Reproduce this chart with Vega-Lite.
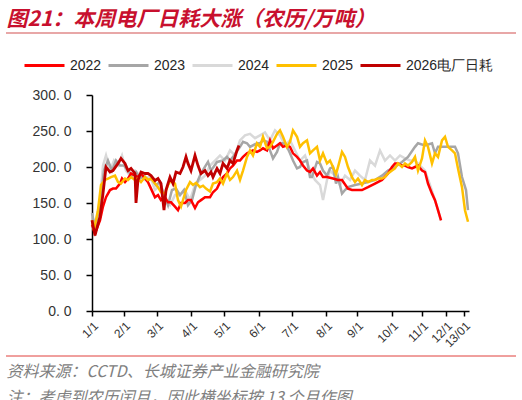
{
  "$schema": "https://vega.github.io/schema/vega-lite/v6.json",
  "width": 377,
  "height": 216,
  "autosize": {"type": "none"},
  "padding": {"left": 92, "top": 95, "right": 53, "bottom": 89},
  "background": "white",
  "config": {"view": {"stroke": null}, "font": "Liberation Sans", "axis": {"labelOverlap": false}},
  "data": {"values": [
    {"s":"2024","t":0,"v":133},{"s":"2024","t":3,"v":119},{"s":"2024","t":8,"v":154},{"s":"2024","t":11,"v":202},{"s":"2024","t":14,"v":216},{"s":"2024","t":18,"v":195},{"s":"2024","t":22,"v":209},{"s":"2024","t":26,"v":202},{"s":"2024","t":30,"v":216},{"s":"2024","t":34,"v":195},{"s":"2024","t":38,"v":188},{"s":"2024","t":43,"v":195},{"s":"2024","t":48,"v":188},{"s":"2024","t":53,"v":182},{"s":"2024","t":58,"v":188},{"s":"2024","t":63,"v":168},{"s":"2024","t":68,"v":175},{"s":"2024","t":73,"v":154},{"s":"2024","t":78,"v":147},{"s":"2024","t":83,"v":161},{"s":"2024","t":88,"v":161},{"s":"2024","t":93,"v":168},{"s":"2024","t":98,"v":154},{"s":"2024","t":103,"v":175},{"s":"2024","t":108,"v":182},{"s":"2024","t":113,"v":188},{"s":"2024","t":118,"v":202},{"s":"2024","t":123,"v":209},{"s":"2024","t":128,"v":216},{"s":"2024","t":133,"v":209},{"s":"2024","t":138,"v":223},{"s":"2024","t":143,"v":216},{"s":"2024","t":148,"v":237},{"s":"2024","t":153,"v":244},{"s":"2024","t":158,"v":246},{"s":"2024","t":163,"v":240},{"s":"2024","t":168,"v":244},{"s":"2024","t":173,"v":248},{"s":"2024","t":178,"v":237},{"s":"2024","t":183,"v":251},{"s":"2024","t":188,"v":244},{"s":"2024","t":193,"v":230},{"s":"2024","t":198,"v":237},{"s":"2024","t":203,"v":223},{"s":"2024","t":208,"v":209},{"s":"2024","t":213,"v":216},{"s":"2024","t":218,"v":195},{"s":"2024","t":223,"v":182},{"s":"2024","t":228,"v":175},{"s":"2024","t":231,"v":154},{"s":"2024","t":235,"v":182},{"s":"2024","t":238,"v":195},{"s":"2024","t":243,"v":188},{"s":"2024","t":248,"v":175},{"s":"2024","t":253,"v":188},{"s":"2024","t":258,"v":182},{"s":"2024","t":263,"v":195},{"s":"2024","t":268,"v":188},{"s":"2024","t":273,"v":182},{"s":"2024","t":278,"v":209},{"s":"2024","t":283,"v":202},{"s":"2024","t":288,"v":223},{"s":"2024","t":293,"v":209},{"s":"2024","t":298,"v":216},{"s":"2024","t":303,"v":209},{"s":"2024","t":308,"v":216},{"s":"2024","t":313,"v":212},{"s":"2024","t":318,"v":209},{"s":"2024","t":323,"v":209},{"s":"2024","t":328,"v":202},{"s":"2024","t":333,"v":195},{"s":"2024","t":338,"v":175},{"s":"2024","t":343,"v":154},{"s":"2024","t":346,"v":140},{"s":"2024","t":349,"v":126},

    {"s":"2023","t":0,"v":136},{"s":"2023","t":3,"v":115},{"s":"2023","t":8,"v":147},{"s":"2023","t":12,"v":195},{"s":"2023","t":16,"v":209},{"s":"2023","t":20,"v":195},{"s":"2023","t":24,"v":209},{"s":"2023","t":28,"v":202},{"s":"2023","t":32,"v":202},{"s":"2023","t":36,"v":195},{"s":"2023","t":40,"v":188},{"s":"2023","t":44,"v":193},{"s":"2023","t":48,"v":184},{"s":"2023","t":52,"v":188},{"s":"2023","t":56,"v":182},{"s":"2023","t":60,"v":184},{"s":"2023","t":64,"v":175},{"s":"2023","t":68,"v":179},{"s":"2023","t":72,"v":161},{"s":"2023","t":76,"v":147},{"s":"2023","t":80,"v":168},{"s":"2023","t":84,"v":170},{"s":"2023","t":88,"v":161},{"s":"2023","t":92,"v":168},{"s":"2023","t":96,"v":147},{"s":"2023","t":100,"v":154},{"s":"2023","t":104,"v":175},{"s":"2023","t":108,"v":188},{"s":"2023","t":112,"v":198},{"s":"2023","t":116,"v":207},{"s":"2023","t":119,"v":195},{"s":"2023","t":125,"v":207},{"s":"2023","t":131,"v":209},{"s":"2023","t":135,"v":214},{"s":"2023","t":138,"v":209},{"s":"2023","t":141,"v":214},{"s":"2023","t":148,"v":228},{"s":"2023","t":151,"v":235},{"s":"2023","t":155,"v":233},{"s":"2023","t":158,"v":228},{"s":"2023","t":165,"v":233},{"s":"2023","t":168,"v":233},{"s":"2023","t":171,"v":237},{"s":"2023","t":175,"v":235},{"s":"2023","t":178,"v":223},{"s":"2023","t":181,"v":212},{"s":"2023","t":185,"v":221},{"s":"2023","t":188,"v":233},{"s":"2023","t":191,"v":233},{"s":"2023","t":195,"v":228},{"s":"2023","t":198,"v":219},{"s":"2023","t":201,"v":209},{"s":"2023","t":205,"v":198},{"s":"2023","t":208,"v":200},{"s":"2023","t":211,"v":207},{"s":"2023","t":215,"v":209},{"s":"2023","t":218,"v":186},{"s":"2023","t":220,"v":186},{"s":"2023","t":225,"v":207},{"s":"2023","t":228,"v":205},{"s":"2023","t":231,"v":195},{"s":"2023","t":235,"v":188},{"s":"2023","t":238,"v":198},{"s":"2023","t":241,"v":200},{"s":"2023","t":244,"v":177},{"s":"2023","t":246,"v":186},{"s":"2023","t":250,"v":163},{"s":"2023","t":253,"v":168},{"s":"2023","t":256,"v":172},{"s":"2023","t":263,"v":175},{"s":"2023","t":270,"v":177},{"s":"2023","t":276,"v":179},{"s":"2023","t":283,"v":182},{"s":"2023","t":290,"v":188},{"s":"2023","t":296,"v":195},{"s":"2023","t":303,"v":200},{"s":"2023","t":310,"v":207},{"s":"2023","t":316,"v":214},{"s":"2023","t":323,"v":228},{"s":"2023","t":326,"v":233},{"s":"2023","t":333,"v":230},{"s":"2023","t":340,"v":233},{"s":"2023","t":343,"v":219},{"s":"2023","t":346,"v":228},{"s":"2023","t":353,"v":228},{"s":"2023","t":360,"v":228},{"s":"2023","t":363,"v":228},{"s":"2023","t":366,"v":219},{"s":"2023","t":370,"v":186},{"s":"2023","t":374,"v":168},{"s":"2023","t":376,"v":140},

    {"s":"2022","t":0,"v":120},{"s":"2022","t":3,"v":108},{"s":"2022","t":8,"v":126},{"s":"2022","t":11,"v":145},{"s":"2022","t":14,"v":158},{"s":"2022","t":18,"v":168},{"s":"2022","t":21,"v":170},{"s":"2022","t":24,"v":170},{"s":"2022","t":28,"v":177},{"s":"2022","t":30,"v":184},{"s":"2022","t":33,"v":179},{"s":"2022","t":36,"v":184},{"s":"2022","t":39,"v":191},{"s":"2022","t":43,"v":188},{"s":"2022","t":46,"v":186},{"s":"2022","t":49,"v":191},{"s":"2022","t":53,"v":184},{"s":"2022","t":56,"v":179},{"s":"2022","t":59,"v":170},{"s":"2022","t":63,"v":158},{"s":"2022","t":66,"v":161},{"s":"2022","t":69,"v":154},{"s":"2022","t":73,"v":158},{"s":"2022","t":76,"v":151},{"s":"2022","t":79,"v":151},{"s":"2022","t":83,"v":145},{"s":"2022","t":86,"v":140},{"s":"2022","t":89,"v":150},{"s":"2022","t":93,"v":150},{"s":"2022","t":96,"v":154},{"s":"2022","t":99,"v":154},{"s":"2022","t":103,"v":143},{"s":"2022","t":106,"v":151},{"s":"2022","t":109,"v":154},{"s":"2022","t":113,"v":158},{"s":"2022","t":116,"v":158},{"s":"2022","t":118,"v":158},{"s":"2022","t":121,"v":165},{"s":"2022","t":125,"v":170},{"s":"2022","t":128,"v":179},{"s":"2022","t":131,"v":186},{"s":"2022","t":135,"v":191},{"s":"2022","t":138,"v":198},{"s":"2022","t":141,"v":202},{"s":"2022","t":145,"v":209},{"s":"2022","t":148,"v":209},{"s":"2022","t":151,"v":214},{"s":"2022","t":155,"v":219},{"s":"2022","t":158,"v":221},{"s":"2022","t":161,"v":223},{"s":"2022","t":165,"v":221},{"s":"2022","t":168,"v":223},{"s":"2022","t":171,"v":226},{"s":"2022","t":175,"v":223},{"s":"2022","t":178,"v":237},{"s":"2022","t":181,"v":226},{"s":"2022","t":185,"v":230},{"s":"2022","t":188,"v":233},{"s":"2022","t":191,"v":228},{"s":"2022","t":195,"v":230},{"s":"2022","t":198,"v":228},{"s":"2022","t":201,"v":219},{"s":"2022","t":205,"v":214},{"s":"2022","t":208,"v":209},{"s":"2022","t":211,"v":202},{"s":"2022","t":215,"v":195},{"s":"2022","t":218,"v":193},{"s":"2022","t":221,"v":198},{"s":"2022","t":225,"v":188},{"s":"2022","t":228,"v":193},{"s":"2022","t":231,"v":186},{"s":"2022","t":235,"v":186},{"s":"2022","t":241,"v":184},{"s":"2022","t":246,"v":182},{"s":"2022","t":250,"v":182},{"s":"2022","t":256,"v":170},{"s":"2022","t":260,"v":168},{"s":"2022","t":263,"v":168},{"s":"2022","t":270,"v":168},{"s":"2022","t":276,"v":172},{"s":"2022","t":283,"v":177},{"s":"2022","t":290,"v":182},{"s":"2022","t":296,"v":191},{"s":"2022","t":300,"v":200},{"s":"2022","t":303,"v":205},{"s":"2022","t":306,"v":205},{"s":"2022","t":310,"v":202},{"s":"2022","t":313,"v":202},{"s":"2022","t":316,"v":200},{"s":"2022","t":320,"v":198},{"s":"2022","t":323,"v":200},{"s":"2022","t":326,"v":202},{"s":"2022","t":330,"v":195},{"s":"2022","t":333,"v":193},{"s":"2022","t":336,"v":177},{"s":"2022","t":340,"v":163},{"s":"2022","t":343,"v":154},{"s":"2022","t":346,"v":140},{"s":"2022","t":349,"v":126},

    {"s":"2025","t":0,"v":126},{"s":"2025","t":2,"v":112},{"s":"2025","t":6,"v":140},{"s":"2025","t":9,"v":175},{"s":"2025","t":13,"v":182},{"s":"2025","t":16,"v":184},{"s":"2025","t":19,"v":186},{"s":"2025","t":23,"v":188},{"s":"2025","t":26,"v":179},{"s":"2025","t":29,"v":177},{"s":"2025","t":33,"v":184},{"s":"2025","t":36,"v":182},{"s":"2025","t":39,"v":186},{"s":"2025","t":43,"v":182},{"s":"2025","t":46,"v":184},{"s":"2025","t":49,"v":179},{"s":"2025","t":53,"v":186},{"s":"2025","t":56,"v":182},{"s":"2025","t":59,"v":184},{"s":"2025","t":63,"v":177},{"s":"2025","t":66,"v":172},{"s":"2025","t":69,"v":165},{"s":"2025","t":73,"v":163},{"s":"2025","t":76,"v":175},{"s":"2025","t":79,"v":182},{"s":"2025","t":83,"v":177},{"s":"2025","t":86,"v":154},{"s":"2025","t":89,"v":145},{"s":"2025","t":91,"v":154},{"s":"2025","t":94,"v":168},{"s":"2025","t":98,"v":179},{"s":"2025","t":101,"v":175},{"s":"2025","t":104,"v":178},{"s":"2025","t":108,"v":172},{"s":"2025","t":111,"v":174},{"s":"2025","t":114,"v":170},{"s":"2025","t":118,"v":166},{"s":"2025","t":121,"v":177},{"s":"2025","t":125,"v":179},{"s":"2025","t":128,"v":184},{"s":"2025","t":131,"v":177},{"s":"2025","t":135,"v":191},{"s":"2025","t":138,"v":182},{"s":"2025","t":141,"v":186},{"s":"2025","t":145,"v":195},{"s":"2025","t":148,"v":182},{"s":"2025","t":151,"v":195},{"s":"2025","t":155,"v":214},{"s":"2025","t":158,"v":223},{"s":"2025","t":161,"v":216},{"s":"2025","t":165,"v":233},{"s":"2025","t":168,"v":228},{"s":"2025","t":171,"v":242},{"s":"2025","t":175,"v":226},{"s":"2025","t":178,"v":228},{"s":"2025","t":181,"v":235},{"s":"2025","t":185,"v":246},{"s":"2025","t":188,"v":251},{"s":"2025","t":191,"v":242},{"s":"2025","t":195,"v":228},{"s":"2025","t":198,"v":235},{"s":"2025","t":201,"v":251},{"s":"2025","t":205,"v":242},{"s":"2025","t":208,"v":228},{"s":"2025","t":211,"v":233},{"s":"2025","t":215,"v":237},{"s":"2025","t":218,"v":219},{"s":"2025","t":221,"v":223},{"s":"2025","t":225,"v":228},{"s":"2025","t":228,"v":209},{"s":"2025","t":231,"v":219},{"s":"2025","t":235,"v":205},{"s":"2025","t":238,"v":209},{"s":"2025","t":241,"v":200},{"s":"2025","t":244,"v":190},{"s":"2025","t":247,"v":205},{"s":"2025","t":250,"v":221},{"s":"2025","t":253,"v":214},{"s":"2025","t":256,"v":200},{"s":"2025","t":260,"v":186},{"s":"2025","t":263,"v":179},{"s":"2025","t":266,"v":184},{"s":"2025","t":270,"v":175},{"s":"2025","t":273,"v":182},{"s":"2025","t":276,"v":179},{"s":"2025","t":280,"v":182},{"s":"2025","t":283,"v":182},{"s":"2025","t":286,"v":184},{"s":"2025","t":290,"v":184},{"s":"2025","t":293,"v":186},{"s":"2025","t":296,"v":191},{"s":"2025","t":300,"v":195},{"s":"2025","t":303,"v":198},{"s":"2025","t":306,"v":205},{"s":"2025","t":310,"v":200},{"s":"2025","t":313,"v":205},{"s":"2025","t":316,"v":202},{"s":"2025","t":320,"v":207},{"s":"2025","t":323,"v":214},{"s":"2025","t":326,"v":195},{"s":"2025","t":330,"v":212},{"s":"2025","t":333,"v":237},{"s":"2025","t":336,"v":228},{"s":"2025","t":340,"v":205},{"s":"2025","t":343,"v":219},{"s":"2025","t":346,"v":214},{"s":"2025","t":350,"v":237},{"s":"2025","t":353,"v":242},{"s":"2025","t":356,"v":228},{"s":"2025","t":360,"v":223},{"s":"2025","t":363,"v":219},{"s":"2025","t":366,"v":198},{"s":"2025","t":370,"v":172},{"s":"2025","t":373,"v":140},{"s":"2025","t":376,"v":124},

    {"s":"2026电厂日耗","t":0,"v":126},{"s":"2026电厂日耗","t":3,"v":105},{"s":"2026电厂日耗","t":8,"v":131},{"s":"2026电厂日耗","t":11,"v":163},{"s":"2026电厂日耗","t":14,"v":200},{"s":"2026电厂日耗","t":18,"v":193},{"s":"2026电厂日耗","t":21,"v":195},{"s":"2026电厂日耗","t":26,"v":205},{"s":"2026电厂日耗","t":29,"v":212},{"s":"2026电厂日耗","t":33,"v":205},{"s":"2026电厂日耗","t":36,"v":195},{"s":"2026电厂日耗","t":39,"v":198},{"s":"2026电厂日耗","t":43,"v":191},{"s":"2026电厂日耗","t":44,"v":150},{"s":"2026电厂日耗","t":46,"v":182},{"s":"2026电厂日耗","t":49,"v":193},{"s":"2026电厂日耗","t":53,"v":191},{"s":"2026电厂日耗","t":56,"v":191},{"s":"2026电厂日耗","t":59,"v":188},{"s":"2026电厂日耗","t":63,"v":181},{"s":"2026电厂日耗","t":66,"v":184},{"s":"2026电厂日耗","t":69,"v":177},{"s":"2026电厂日耗","t":72,"v":140},{"s":"2026电厂日耗","t":74,"v":168},{"s":"2026电厂日耗","t":78,"v":186},{"s":"2026电厂日耗","t":81,"v":177},{"s":"2026电厂日耗","t":84,"v":193},{"s":"2026电厂日耗","t":88,"v":191},{"s":"2026电厂日耗","t":91,"v":200},{"s":"2026电厂日耗","t":94,"v":214},{"s":"2026电厂日耗","t":96,"v":205},{"s":"2026电厂日耗","t":99,"v":195},{"s":"2026电厂日耗","t":103,"v":216},{"s":"2026电厂日耗","t":106,"v":202},{"s":"2026电厂日耗","t":109,"v":191},{"s":"2026电厂日耗","t":113,"v":195},{"s":"2026电厂日耗","t":116,"v":188},{"s":"2026电厂日耗","t":119,"v":193},{"s":"2026电厂日耗","t":121,"v":186},{"s":"2026电厂日耗","t":125,"v":198},{"s":"2026电厂日耗","t":128,"v":191},{"s":"2026电厂日耗","t":131,"v":205},{"s":"2026电厂日耗","t":135,"v":198},{"s":"2026电厂日耗","t":138,"v":209},{"s":"2026电厂日耗","t":141,"v":205},{"s":"2026电厂日耗","t":145,"v":223},{"s":"2026电厂日耗","t":147,"v":230}
  ]},
  "encoding": {
    "x": {
      "field": "t", "type": "quantitative",
      "scale": {"domain": [0, 377], "nice": false, "zero": false},
      "axis": {
        "values": [0, 32, 65, 99, 132, 167, 200, 234, 265, 300, 330, 354, 372],
        "labelExpr": "datum.value==0?'1/1':datum.value==32?'2/1':datum.value==65?'3/1':datum.value==99?'4/1':datum.value==132?'5/1':datum.value==167?'6/1':datum.value==200?'7/1':datum.value==234?'8/1':datum.value==265?'9/1':datum.value==300?'10/1':datum.value==330?'11/1':datum.value==354?'12/1':'13/01'",
        "labelAngle": -45,
        "labelFontSize": 12,
        "labelColor": "#333333",
        "labelPadding": 4,
        "labelOverlap": false,
        "labelFlush": false,
        "grid": false,
        "domainColor": "#000000",
        "domainWidth": 1.5,
        "tickColor": "#000000",
        "tickWidth": 1.5,
        "tickSize": 5,
        "title": ["资料来源：CCTD、长城证券产业金融研究院", "注：考虑到农历闰月，因此横坐标按 13 个月作图"],
        "titleX": -86,
        "titleY": 52,
        "titleAlign": "left",
        "titleAnchor": "start",
        "titleAngle": 0,
        "titleBaseline": "top",
        "titleFont": "Noto Sans CJK SC",
        "titleFontSize": 16,
        "titleFontWeight": "normal",
        "titleFontStyle": "italic",
        "titleColor": "#808080",
        "titleLineHeight": 26
      }
    },
    "y": {
      "field": "v", "type": "quantitative",
      "scale": {"domain": [0, 300], "nice": false},
      "axis": {
        "values": [0, 50, 100, 150, 200, 250, 300],
        "labelExpr": "replace(format(datum.value, '.1f'), '.', '. ')",
        "labelOverlap": false,
        "labelFontSize": 14,
        "labelColor": "#333333",
        "labelPadding": 15,
        "grid": false,
        "domainColor": "#000000",
        "domainWidth": 1.5,
        "tickColor": "#000000",
        "tickWidth": 1.5,
        "tickSize": 6,
        "title": "图21：本周电厂日耗大涨（农历/万吨）",
        "titleX": -86,
        "titleY": -70,
        "titleAngle": 0,
        "titleAlign": "left",
        "titleBaseline": "alphabetic",
        "titleFont": "Noto Sans CJK SC",
        "titleFontSize": 21,
        "titleFontWeight": "bold",
        "titleFontStyle": "italic",
        "titleColor": "#C8102E"
      }
    },
    "color": {
      "field": "s", "type": "nominal",
      "scale": {
        "domain": ["2022", "2023", "2024", "2025", "2026电厂日耗"],
        "range": ["#FF0000", "#A6A6A6", "#D9D9D9", "#FFC000", "#C00000"]
      },
      "legend": {
        "orient": "none",
        "legendX": -69,
        "legendY": -51,
        "direction": "horizontal",
        "title": null,
        "gridAlign": "none",
        "symbolType": "stroke",
        "symbolSize": 1600,
        "symbolStrokeWidth": 3,
        "labelFontSize": 14,
        "labelColor": "#262626",
        "labelFont": "Liberation Sans",
        "labelOffset": 4,
        "columnPadding": 0,
        "padding": 0
      }
    }
  },
  "layer": [
    {
      "transform": [{"filter": "datum.s == '2026电厂日耗' && datum.t == 0"}],
      "mark": {"type": "rule", "strokeWidth": 1.5, "xOffset": -86, "x2Offset": 424},
      "encoding": {"x": {"field": "t", "type": "quantitative"}, "x2": {"field": "t"}, "y": {"datum": 386}, "color": {"value": "#E08A8A"}}
    },
    {
      "transform": [{"filter": "datum.s == '2026电厂日耗' && datum.t == 0"}],
      "mark": {"type": "rule", "strokeWidth": 1, "xOffset": -86, "x2Offset": 424},
      "encoding": {"x": {"field": "t", "type": "quantitative"}, "x2": {"field": "t"}, "y": {"datum": -62.5}, "color": {"value": "#E0403C"}}
    },
    {"transform": [{"filter": "datum.s == '2024'"}], "mark": {"type": "line", "strokeWidth": 2.5}},
    {"transform": [{"filter": "datum.s == '2023'"}], "mark": {"type": "line", "strokeWidth": 2.5}},
    {"transform": [{"filter": "datum.s == '2022'"}], "mark": {"type": "line", "strokeWidth": 2.5}},
    {"transform": [{"filter": "datum.s == '2025'"}], "mark": {"type": "line", "strokeWidth": 2.5}},
    {"transform": [{"filter": "datum.s == '2026电厂日耗'"}], "mark": {"type": "line", "strokeWidth": 2.8}}
  ]
}
